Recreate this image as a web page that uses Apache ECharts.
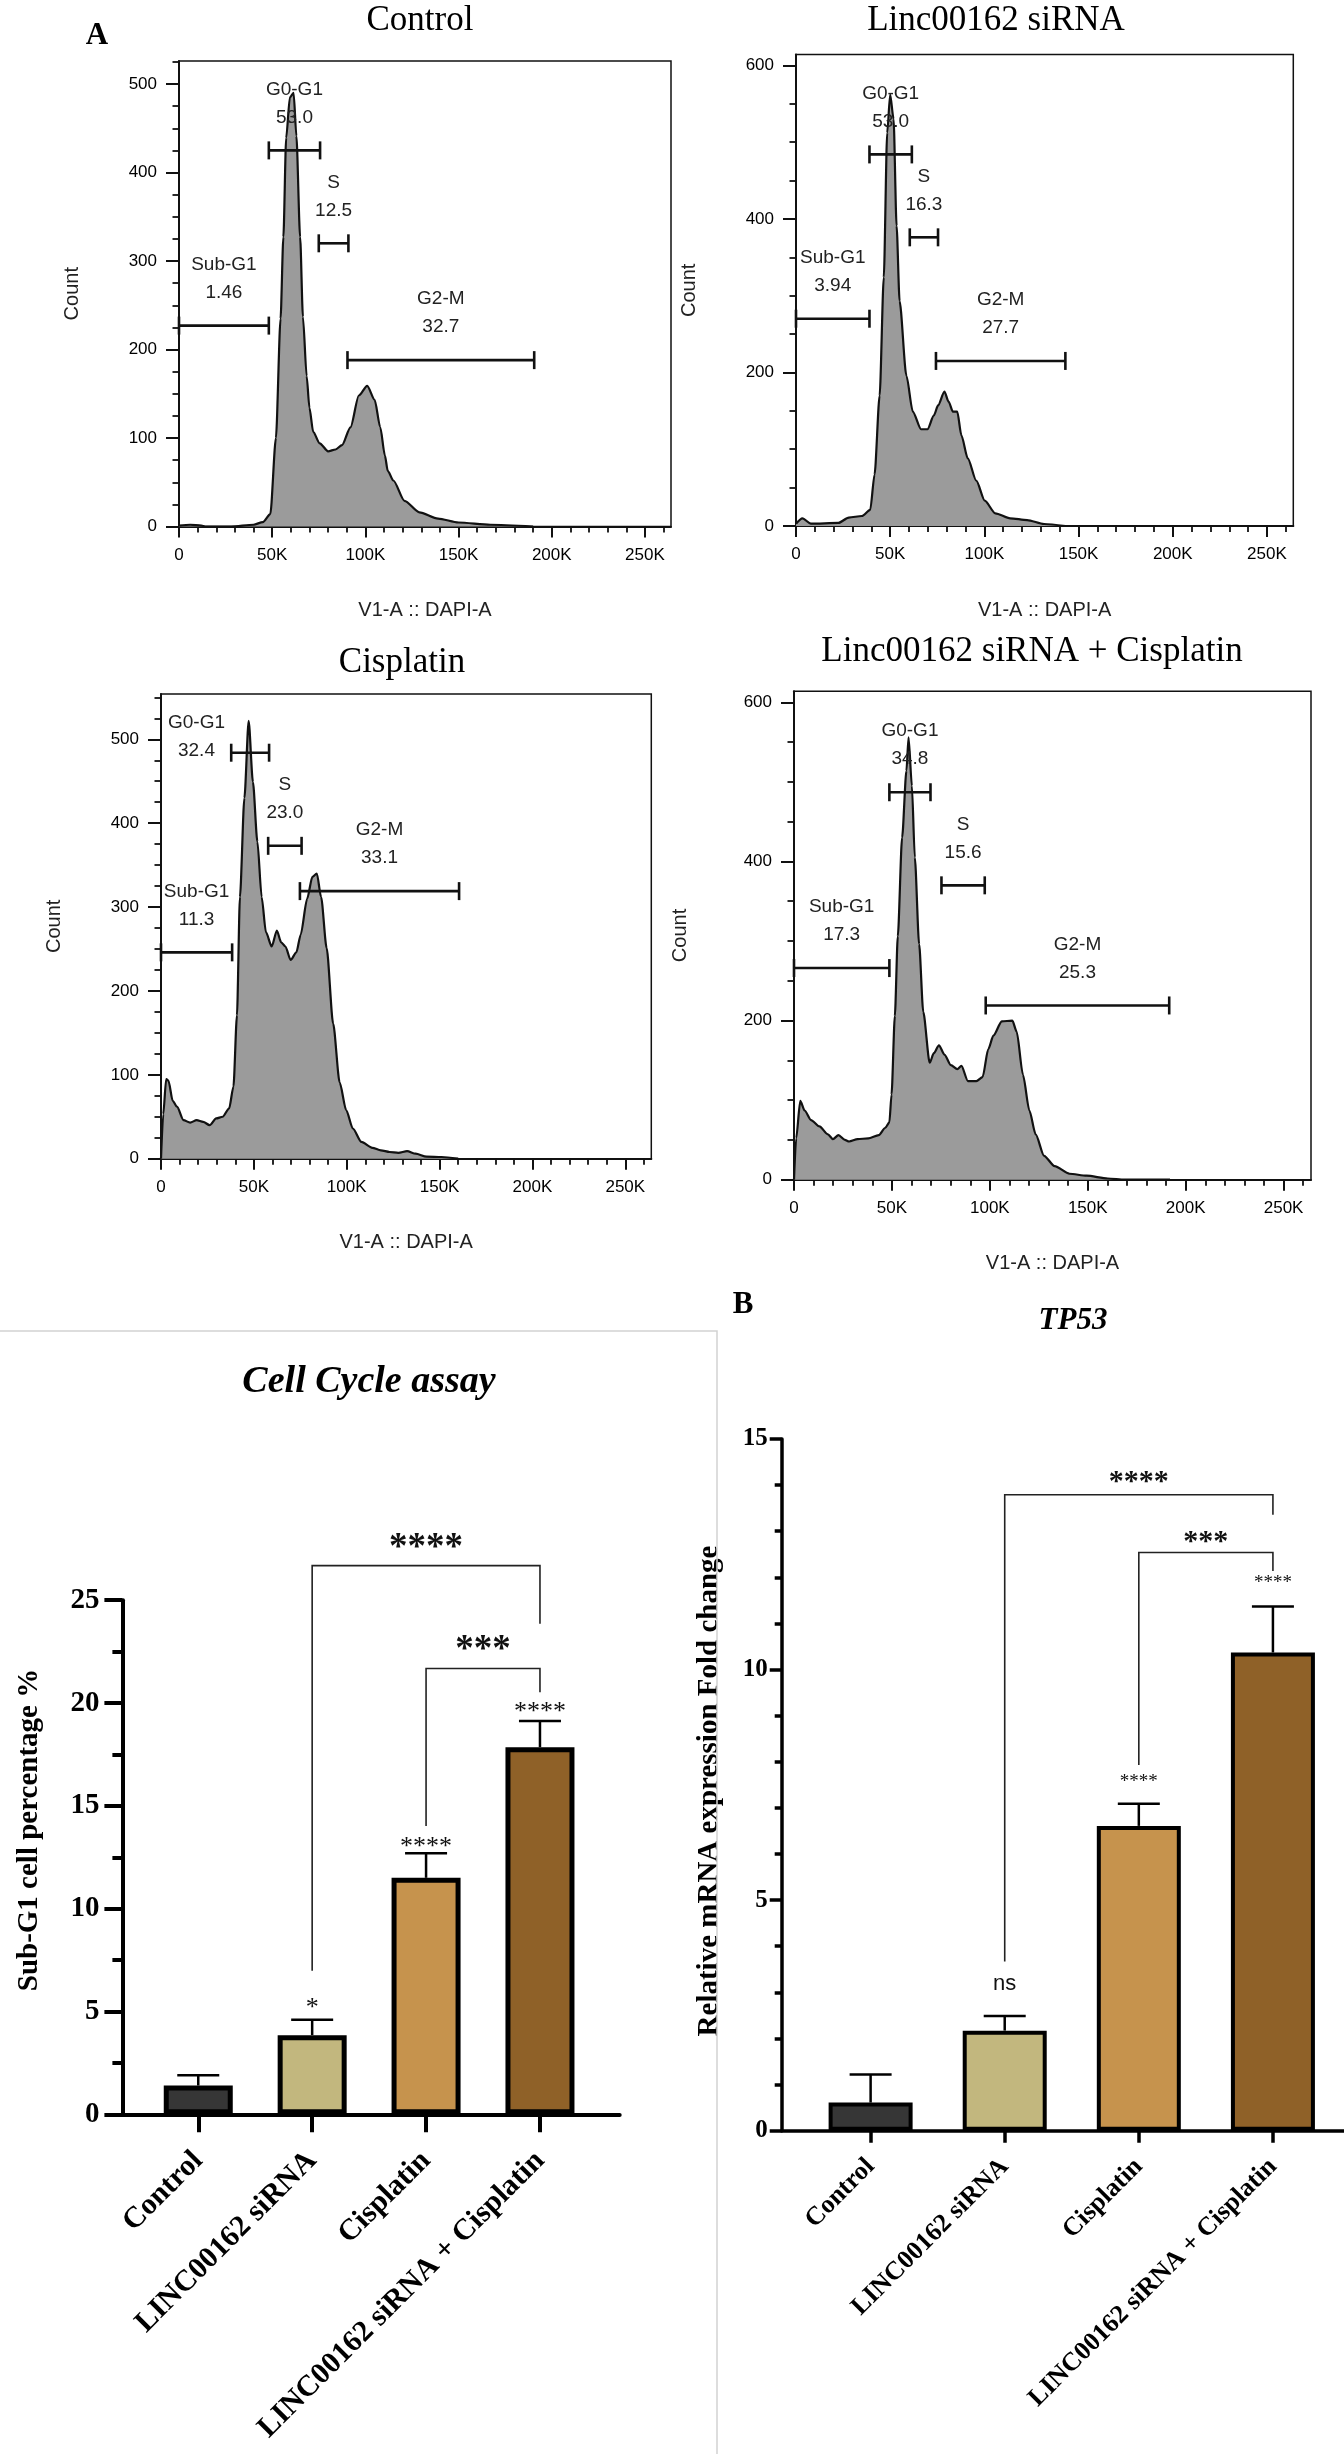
<!DOCTYPE html>
<html>
<head>
<meta charset="utf-8">
<title>Cell cycle / TP53</title>
<script src="https://cdn.jsdelivr.net/npm/echarts@6/dist/echarts.min.js"></script>
<style>
html,body{margin:0;padding:0;background:#fff;}
#container{width:1344px;height:2454px;}
</style>
</head>
<body>
<div id="container"></div>
<script>
// ---- flow histograms (DAPI in K, cell count) ----
var ctrlDapi = [0, 6, 12, 14, 28, 40, 45, 49, 52, 54.5, 56, 57.5, 59.5, 61.5, 63, 65, 66.5, 68.5, 70, 72, 75.5, 80, 84, 87.5, 92, 96.5, 101, 105, 108, 110.5, 112, 115, 121, 129, 139, 150, 167, 190];
var ctrlCount = [1, 2, 1, 0, 0, 2, 5, 14, 100, 235, 327, 439, 485, 490, 441, 327, 237, 170, 134, 107, 94, 85, 87, 92, 112, 148, 159, 143, 112, 80, 63, 52, 29, 16, 9, 4.5, 2, 0];

var siDapi = [0, 3.4, 7.9, 22.5, 28, 35, 39.4, 41.7, 44.4, 46.6, 48.4, 50, 51.8, 53.4, 55, 58.6, 62, 66.4, 69.8, 73.2, 75.4, 78.8, 81, 83.3, 85.6, 87.8, 91.2, 95.7, 100.2, 105.8, 113.7, 122.7, 131.7, 143];
var siCount = [3, 10, 3, 4, 11, 13, 21, 67, 170, 324, 512, 562, 530, 391, 293, 196, 149, 126, 126, 144, 157, 175, 162, 149, 149, 118, 88, 59, 33, 16.5, 10, 7.7, 2.6, 0];

var cisDapi = [0, 1.2, 2.8, 4, 6.3, 8.6, 12.1, 15.7, 19.2, 22.7, 26.2, 29.7, 33.2, 36.7, 39, 40.9, 42.5, 44.9, 47.2, 49.5, 51.9, 54.2, 56.5, 59.6, 62.4, 64.7, 67, 69.8, 72.9, 75.2, 78.7, 81.5, 83.9, 86.2, 89.2, 92.7, 96.2, 99.7, 103.3, 107.9, 113.8, 118.4, 123.1, 127.8, 132.5, 137.1, 143, 151, 160];
var cisCount = [0, 53, 95, 93, 69, 62, 46, 43, 46, 44, 40, 48, 50, 60, 86, 171, 312, 430, 522, 449, 378, 312, 270, 253, 272, 258, 253, 237, 246, 267, 310, 336, 340, 312, 251, 161, 91, 58, 36, 20, 13, 10, 8, 7, 9, 6, 2.4, 2, 0];

var comboDapi = [0, 1.1, 3.2, 5.4, 8.7, 13, 17.3, 19.9, 22.7, 26, 28.1, 32.5, 37.9, 43.3, 46.5, 48.7, 49.8, 51.5, 53, 55.2, 57.4, 58.5, 60.2, 61.7, 63.9, 66, 69.3, 71.4, 74, 76.9, 80.1, 83.4, 85.5, 88.8, 93.1, 96.3, 99.2, 101.8, 106.1, 111.5, 113.7, 116.9, 120.2, 123.4, 127.7, 133.1, 140.7, 149.4, 160.2, 168.9, 192];
var comboCount = [0, 52, 99, 87, 75, 67, 57, 51, 56, 50, 48, 51, 52, 56, 65, 72, 107, 206, 306, 430, 514, 556, 495, 405, 296, 211, 147, 159, 169, 157, 144, 139, 143, 124, 124, 129, 164, 181, 199, 200, 186, 132, 87, 57, 30, 17, 7.5, 5, 1.5, 0, 0];

// gates: [from K, to K, count level]
var gateNames = ['Sub-G1', 'G0-G1', 'S', 'G2-M'];
var ctrlGates = [[0, 48.2, 227], [48.2, 75.7, 425], [75, 90.9, 320], [90.4, 190.6, 188]];
var ctrlGatePct = ['1.46', '53.0', '12.5', '32.7'];
var siGates = [[0, 39, 270], [39, 61.5, 484], [60.4, 75.4, 376], [74.3, 143, 215]];
var siGatePct = ['3.94', '53.0', '16.3', '27.7'];
var cisGates = [[0, 38.3, 246], [37.8, 58.2, 484], [57.7, 75.7, 373], [74.8, 160.5, 319]];
var cisGatePct = ['11.3', '32.4', '23.0', '33.1'];
var cisGateLabelAt = [null, [19.1, 447], null, null];
var comboGates = [[0, 48.7, 266], [48.7, 69.7, 487], [75.3, 97.4, 370], [97.9, 191.6, 219]];
var comboGatePct = ['17.3', '34.8', '15.6', '25.3'];

var dapiTicks = [0, 50, 100, 150, 200, 250];

// ---- bar charts ----
var groups = ['Control', 'LINC00162 siRNA', 'Cisplatin', 'LINC00162 siRNA + Cisplatin'];
var barColors = ['#363636', '#c2b77e', '#c6934d', '#8f6128'];

var subG1Mean = [1.4, 3.85, 11.5, 17.85];
var subG1Err = [0.5, 0.75, 1.2, 1.27];
var subG1Stars = ['', '*', '****', '****'];
var subG1StarY = [0, 5.4, 13.24, 19.82];
// [from, to, line level, left leg end, right leg end, text level]
var subG1Brackets = [[1, 3, 26.68, 6.98, 23.86, 27.9], [2, 3, 21.68, 14.02, 20.52, 22.9]];
var subG1BracketText = ['****', '***'];

var tp53Mean = [0.61, 2.17, 6.61, 10.37];
var tp53Err = [0.61, 0.32, 0.48, 1.0];
var tp53Stars = ['', 'ns', '****', '****'];
var tp53StarY = [0, 3.18, 7.64, 11.95];
var tp53Brackets = [[1, 3, 13.79, 3.67, 13.36, 14.2], [2, 3, 12.54, 7.93, 12.14, 12.9]];
var tp53BracketText = ['****', '***'];

var SANS = '"Liberation Sans", Arial, sans-serif';
var SERIF = '"Liberation Serif", "Times New Roman", serif';

var grids = [], xAxes = [], yAxes = [], series = [], graphics = [];

function txt(x, y, text, font, color, rotation) {
    return {type: 'text', x: x, y: y, rotation: rotation || 0, silent: true,
        style: {text: text, font: font, fill: color || '#000',
            align: 'center', verticalAlign: 'middle', textAlign: 'center', textVerticalAlign: 'middle'}};
}

function zip(a, b) {
    return a.map(function (v, i) { return [v, b[i]]; });
}

function minorValues(max, minorStep, majorStep) {
    var out = [];
    for (var v = minorStep; v < max; v += minorStep) {
        if (v % majorStep !== 0) out.push(v);
    }
    return out;
}

var panels = [
    {title: 'Control', tx: 420, ty: 21, box: {left: 179, top: 61, width: 492, height: 465.5},
        yMax: 526, yStep: 100, yMinor: 25, countGap: 97,
        dapi: ctrlDapi, count: ctrlCount, gates: ctrlGates, pct: ctrlGatePct, labelAt: null},
    {title: 'Linc00162 siRNA', tx: 996, ty: 21, box: {left: 796, top: 54.6, width: 497.3, height: 471.4},
        yMax: 614, yStep: 200, yMinor: 50, countGap: 97,
        dapi: siDapi, count: siCount, gates: siGates, pct: siGatePct, labelAt: null},
    {title: 'Cisplatin', tx: 402, ty: 663, box: {left: 161, top: 694, width: 490.3, height: 464.7},
        yMax: 554, yStep: 100, yMinor: 25, countGap: 97,
        dapi: cisDapi, count: cisCount, gates: cisGates, pct: cisGatePct, labelAt: cisGateLabelAt},
    {title: 'Linc00162 siRNA + Cisplatin', tx: 1032, ty: 652, box: {left: 794, top: 691.2, width: 517, height: 488.5},
        yMax: 614, yStep: 200, yMinor: 50, countGap: 104,
        dapi: comboDapi, count: comboCount, gates: comboGates, pct: comboGatePct, labelAt: null}
];

panels.forEach(function (p) {
    var g = grids.length;
    grids.push({left: p.box.left, top: p.box.top, width: p.box.width, height: p.box.height,
        show: true, borderColor: '#111', borderWidth: 1.5, outerBoundsMode: 'none'});

    var yMajor = [];
    for (var v = 0; v <= p.yMax; v += p.yStep) yMajor.push(v);

    var xi = xAxes.length;
    xAxes.push({
        type: 'value', gridIndex: g, position: 'bottom', min: 0, max: 264,
        axisLine: {show: true, onZero: false, lineStyle: {color: '#111', width: 2}},
        axisTick: {show: true, customValues: dapiTicks, length: 11, lineStyle: {color: '#111', width: 2}},
        axisLabel: {customValues: dapiTicks, margin: 20, color: '#000', fontFamily: SANS, fontSize: 17,
            formatter: function (v) { return v === 0 ? '0' : v + 'K'; }},
        splitLine: {show: false},
        name: 'V1-A :: DAPI-A', nameLocation: 'middle', nameGap: 74,
        nameTextStyle: {color: '#222', fontFamily: SANS, fontSize: 20}
    });
    xAxes.push({
        type: 'value', gridIndex: g, position: 'bottom', min: 0, max: 264,
        axisLine: {show: false, onZero: false},
        axisTick: {show: true, customValues: minorValues(264, 10, 50), length: 6, lineStyle: {color: '#111', width: 1.8}},
        axisLabel: {show: false}, splitLine: {show: false}
    });

    var yi = yAxes.length;
    yAxes.push({
        type: 'value', gridIndex: g, position: 'left', min: 0, max: p.yMax,
        axisLine: {show: true, onZero: false, lineStyle: {color: '#111', width: 2}},
        axisTick: {show: true, customValues: yMajor, length: 13, lineStyle: {color: '#111', width: 2}},
        axisLabel: {customValues: yMajor, margin: 22, color: '#000', fontFamily: SANS, fontSize: 17},
        splitLine: {show: false},
        name: 'Count', nameLocation: 'middle', nameGap: p.countGap,
        nameTextStyle: {color: '#222', fontFamily: SANS, fontSize: 20}
    });
    yAxes.push({
        type: 'value', gridIndex: g, position: 'left', min: 0, max: p.yMax,
        axisLine: {show: false, onZero: false},
        axisTick: {show: true, customValues: minorValues(p.yMax, p.yMinor, p.yStep), length: 6.5, lineStyle: {color: '#111', width: 1.8}},
        axisLabel: {show: false}, splitLine: {show: false}
    });

    series.push({
        type: 'line', xAxisIndex: xi, yAxisIndex: yi, data: zip(p.dapi, p.count),
        symbol: 'none', smooth: 0.25, smoothMonotone: 'x',
        lineStyle: {color: '#111', width: 2.2}, areaStyle: {color: '#9b9b9b', opacity: 1}, z: 2
    });

    var pct = p.pct, labelAt = p.labelAt;
    series.push({
        type: 'custom', xAxisIndex: xi, yAxisIndex: yi, data: p.gates, clip: false, z: 5, silent: true,
        renderItem: function (params, api) {
            var i = params.dataIndex;
            var a = api.coord([api.value(0), api.value(2)]);
            var b = api.coord([api.value(1), api.value(2)]);
            var lp = (labelAt && labelAt[i]) ? api.coord(labelAt[i]) : [(a[0] + b[0]) / 2, a[1]];
            var ls = {stroke: '#111', lineWidth: 2.6};
            return {type: 'group', children: [
                {type: 'line', shape: {x1: a[0], y1: a[1], x2: b[0], y2: b[1]}, style: ls},
                {type: 'line', shape: {x1: a[0], y1: a[1] - 9, x2: a[0], y2: a[1] + 9}, style: ls},
                {type: 'line', shape: {x1: b[0], y1: b[1] - 9, x2: b[0], y2: b[1] + 9}, style: ls},
                txt(lp[0], lp[1] - 61, gateNames[i], '19px ' + SANS, '#222'),
                txt(lp[0], lp[1] - 33, pct[i], '19px ' + SANS, '#222')
            ]};
        }
    });

    graphics.push(txt(p.tx, p.ty, p.title, '35px ' + SERIF, '#000'));
});

function barPanel(c) {
    var g = grids.length;
    grids.push({left: c.box.left, top: c.box.top, width: c.box.width, height: c.box.height, outerBoundsMode: 'none'});
    var line = {color: '#000', width: c.axisW};

    var xi = xAxes.length;
    xAxes.push({
        type: 'value', gridIndex: g, min: c.xMin, max: c.xMax,
        axisLine: {show: true, onZero: false, lineStyle: line},
        axisTick: {show: true, customValues: [0, 1, 2, 3], length: c.tickLen, lineStyle: line},
        axisLabel: {customValues: [0, 1, 2, 3], rotate: 45, margin: c.catMargin, color: '#000',
            fontFamily: SERIF, fontWeight: 'bold', fontSize: c.catSize,
            formatter: function (v) { return groups[Math.round(v)]; }},
        splitLine: {show: false}
    });
    var yi = yAxes.length;
    yAxes.push({
        type: 'value', gridIndex: g, min: 0, max: c.yMax, interval: c.yStep,
        axisLine: {show: true, onZero: false, lineStyle: line},
        axisTick: {show: true, length: c.tickLen, lineStyle: line},
        minorTick: {show: true, splitNumber: c.minorSplit, length: c.minorLen, lineStyle: line},
        axisLabel: {margin: c.yLabelMargin, color: '#000', fontFamily: SERIF, fontWeight: 'bold', fontSize: c.ySize},
        splitLine: {show: false}
    });
    // y axis title, placed where the figure has it (not centred on the axis)
    graphics.push(txt(c.nameAt[0], c.nameAt[1], c.yName, 'bold ' + c.nameSize + 'px ' + SERIF, '#000', Math.PI / 2));

    series.push({
        type: 'bar', xAxisIndex: xi, yAxisIndex: yi, barWidth: c.barWidth,
        data: c.mean.map(function (m, i) { return {value: [i, m], itemStyle: {color: barColors[i]}}; }),
        itemStyle: {borderColor: '#000', borderWidth: c.barBorder}, z: 2
    });

    var err = c.err;
    series.push({
        type: 'custom', xAxisIndex: xi, yAxisIndex: yi, clip: false, z: 4, silent: true,
        data: c.mean.map(function (m, i) { return [i, m, err[i]]; }),
        renderItem: function (params, api) {
            var p0 = api.coord([api.value(0), api.value(1)]);
            var p1 = api.coord([api.value(0), api.value(1) + api.value(2)]);
            var st = {stroke: '#000', lineWidth: 2.5};
            return {type: 'group', children: [
                {type: 'line', shape: {x1: p0[0], y1: p0[1], x2: p1[0], y2: p1[1]}, style: st},
                {type: 'line', shape: {x1: p1[0] - 21, y1: p1[1], x2: p1[0] + 21, y2: p1[1]}, style: st}
            ]};
        }
    });

    var stars = c.stars;
    series.push({
        type: 'custom', xAxisIndex: xi, yAxisIndex: yi, clip: false, z: 4, silent: true,
        data: c.starY.map(function (y, i) { return [i, y]; }),
        renderItem: function (params, api) {
            var s = stars[params.dataIndex];
            if (!s) return null;
            var p = api.coord([api.value(0), api.value(1)]);
            if (s === 'ns') return txt(p[0], p[1], s, c.nsFont, '#111');
            return txt(p[0], p[1] + 0.2 * c.starSize, s, c.starSize + 'px ' + SERIF, '#111');
        }
    });

    var btext = c.bracketText;
    series.push({
        type: 'custom', xAxisIndex: xi, yAxisIndex: yi, clip: false, z: 4, silent: true,
        data: c.brackets,
        renderItem: function (params, api) {
            var from = api.value(0), to = api.value(1), y = api.value(2);
            var a = api.coord([from, api.value(3)]);
            var b = api.coord([from, y]);
            var d = api.coord([to, y]);
            var e = api.coord([to, api.value(4)]);
            var t = api.coord([(from + to) / 2, api.value(5)]);
            return {type: 'group', children: [
                {type: 'polyline', shape: {points: [a, b, d, e]}, style: {stroke: '#222', lineWidth: 1.6, fill: null}},
                txt(t[0], t[1] + 0.2 * c.bracketSize, btext[params.dataIndex], 'bold ' + c.bracketSize + 'px ' + SERIF, '#111')
            ]};
        }
    });
}

barPanel({
    box: {left: 122.4, top: 1600.2, width: 497.3, height: 514.1},
    xMin: -0.666, xMax: 3.70, yMax: 25, yStep: 5, minorSplit: 2,
    axisW: 4, tickLen: 18, minorLen: 10, catMargin: 42, catSize: 30, ySize: 29, yLabelMargin: 23,
    yName: 'Sub-G1 cell percentage %', nameAt: [30, 1830], nameSize: 29,
    barWidth: 69, barBorder: 5, mean: subG1Mean, err: subG1Err,
    stars: subG1Stars, starY: subG1StarY, starSize: 26, nsFont: '22px ' + SANS,
    brackets: subG1Brackets, bracketText: subG1BracketText, bracketSize: 37
});

barPanel({
    box: {left: 781.7, top: 1439, width: 562.3, height: 691.7},
    xMin: -0.663, xMax: 3.53, yMax: 15, yStep: 5, minorSplit: 5,
    axisW: 3.5, tickLen: 12, minorLen: 7, catMargin: 32, catSize: 26, ySize: 25, yLabelMargin: 14,
    yName: 'Relative mRNA expression Fold change', nameAt: [710, 1791], nameSize: 29,
    barWidth: 84, barBorder: 4, mean: tp53Mean, err: tp53Err,
    stars: tp53Stars, starY: tp53StarY, starSize: 19, nsFont: '22px ' + SANS,
    brackets: tp53Brackets, bracketText: tp53BracketText, bracketSize: 30
});

graphics.push(txt(97, 36, 'A', 'bold 31px ' + SERIF, '#000'));
graphics.push(txt(743, 1305, 'B', 'bold 31px ' + SERIF, '#000'));
graphics.push(txt(369, 1382, 'Cell Cycle assay', 'italic bold 38px ' + SERIF, '#000'));
graphics.push(txt(1073, 1321, 'TP53', 'italic bold 31px ' + SERIF, '#000'));
graphics.push({type: 'polyline', silent: true, shape: {points: [[0, 1331], [717, 1331], [717, 2454]]},
    style: {stroke: '#d2d2d2', lineWidth: 1.5, fill: null}});

var chart = echarts.init(document.getElementById('container'), null, {renderer: 'canvas'});
chart.setOption({
    backgroundColor: '#fff',
    animation: false,
    grid: grids,
    xAxis: xAxes,
    yAxis: yAxes,
    series: series,
    graphic: graphics
});
</script>
</body>
</html>
